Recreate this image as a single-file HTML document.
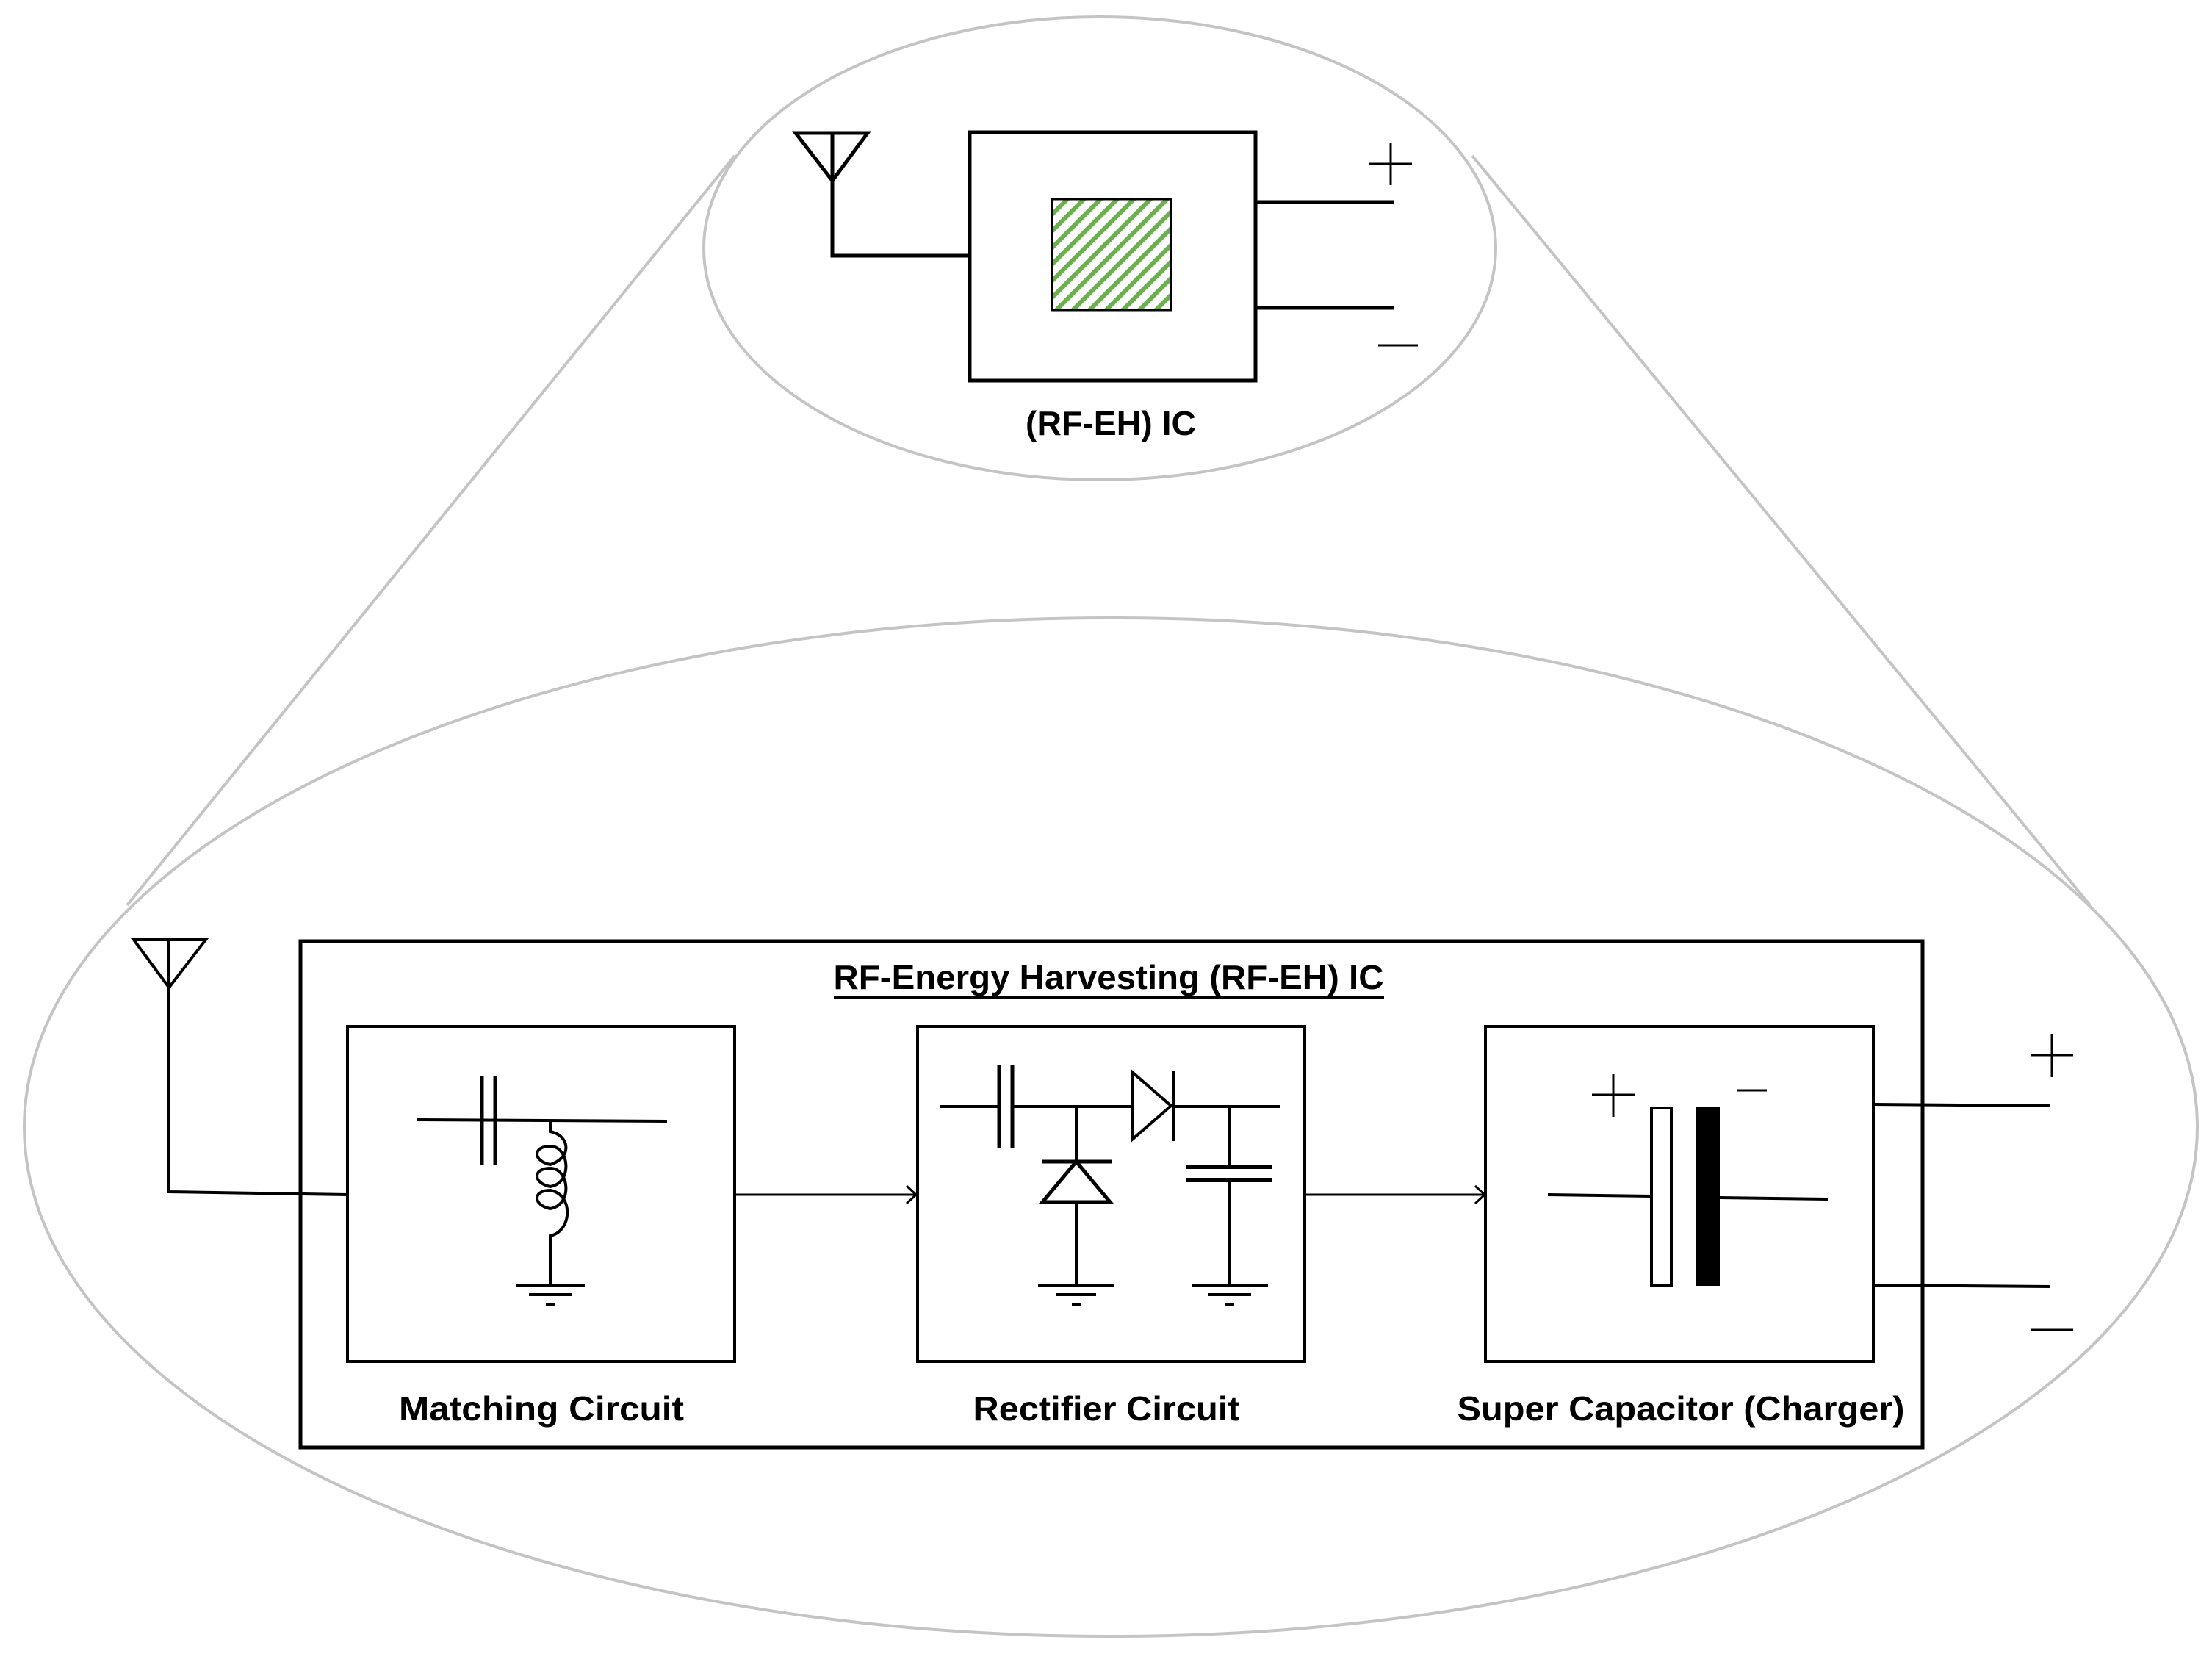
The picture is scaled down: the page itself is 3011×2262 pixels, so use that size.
<!DOCTYPE html>
<html><head><meta charset="utf-8"><style>html,body{margin:0;padding:0;background:#fff}svg{display:block}</style></head><body>
<svg width="3011" height="2262" viewBox="0 0 3011 2262" xmlns="http://www.w3.org/2000/svg">
<defs>
<pattern id="h" patternUnits="userSpaceOnUse" width="16" height="16" patternTransform="rotate(45)">
<rect width="16" height="16" fill="#fff"/><rect x="0" y="0" width="6" height="16" fill="#6ab04c"/>
</pattern>
</defs>
<g fill="none" stroke="#c4c4c4" stroke-width="4">
<ellipse cx="1497" cy="338" rx="539" ry="315"/>
<ellipse cx="1512" cy="1534" rx="1479" ry="693"/>
<line x1="1000" y1="212" x2="173" y2="1232"/>
<line x1="2004" y1="212" x2="2845" y2="1232"/>
</g>
<g fill="none" stroke="#000" stroke-width="5">
<!-- top IC -->
<rect x="1320" y="180" width="389" height="338"/>
<rect x="1432" y="271" width="162" height="151" fill="url(#h)" stroke-width="3"/>
<polygon points="1083,181 1181,181 1133,246" stroke-width="5"/>
<polyline points="1133,181 1133,348 1320,348"/>
<line x1="1709" y1="275" x2="1897" y2="275"/>
<line x1="1709" y1="419" x2="1897" y2="419"/>
<line x1="1864" y1="223" x2="1922" y2="223" stroke-width="3"/>
<line x1="1893" y1="194" x2="1893" y2="252" stroke-width="3"/>
<line x1="1876" y1="470" x2="1930" y2="470" stroke-width="3"/>
<!-- bottom -->
<rect x="409" y="1281" width="2208" height="689"/>
<rect x="473" y="1397" width="527" height="456" stroke-width="4"/>
<rect x="1249" y="1397" width="527" height="456" stroke-width="4"/>
<rect x="2022" y="1397" width="528" height="456" stroke-width="4"/>
<polygon points="182,1279 280,1279 230,1344" stroke-width="4"/>
<polyline points="230,1279 230,1622 473,1626" stroke-width="4"/>
<line x1="1000" y1="1626" x2="1246" y2="1626" stroke-width="3"/>
<polyline points="1234,1614 1247,1626 1234,1638" stroke-width="3"/>
<line x1="1776" y1="1626" x2="2020" y2="1626" stroke-width="3"/>
<polyline points="2008,1614 2021,1626 2008,1638" stroke-width="3"/>
<line x1="2550" y1="1503" x2="2790" y2="1505" stroke-width="4"/>
<line x1="2550" y1="1749" x2="2790" y2="1751" stroke-width="4"/>
<line x1="2764" y1="1436" x2="2822" y2="1436" stroke-width="3"/>
<line x1="2793" y1="1407" x2="2793" y2="1466" stroke-width="3"/>
<line x1="2764" y1="1810" x2="2822" y2="1810" stroke-width="3"/>
<!-- matching -->
<line x1="568" y1="1524" x2="908" y2="1526" stroke-width="4"/>
<line x1="656" y1="1465" x2="656" y2="1586" stroke-width="5"/>
<line x1="674" y1="1465" x2="674" y2="1586" stroke-width="5"/>
<path d="M749 1525 V1540 C775 1545,780 1575,749 1585 C725 1580,725 1560,749 1560 C775 1560,780 1610,749 1615 C725 1610,725 1590,749 1590 C775 1590,780 1640,749 1645 C725 1640,725 1620,749 1620 C780 1625,780 1675,749 1682 V1748" stroke-width="4"/>
<line x1="702" y1="1750" x2="796" y2="1750" stroke-width="4"/>
<line x1="720" y1="1762" x2="778" y2="1762" stroke-width="4"/>
<line x1="743" y1="1775" x2="755" y2="1775" stroke-width="4"/>
<!-- rectifier -->
<line x1="1279" y1="1506" x2="1360" y2="1506" stroke-width="4"/>
<line x1="1360" y1="1450" x2="1360" y2="1562" stroke-width="5"/>
<line x1="1378" y1="1450" x2="1378" y2="1562" stroke-width="5"/>
<line x1="1378" y1="1506" x2="1540" y2="1506" stroke-width="4"/>
<line x1="1465" y1="1506" x2="1465" y2="1748" stroke-width="4"/>
<line x1="1419" y1="1581" x2="1513" y2="1581" stroke-width="5"/>
<polygon points="1465,1581 1419,1636 1511,1636" fill="#fff" stroke-width="5"/>
<line x1="1413" y1="1750" x2="1517" y2="1750" stroke-width="4"/>
<line x1="1438" y1="1762" x2="1492" y2="1762" stroke-width="4"/>
<line x1="1459" y1="1775" x2="1471" y2="1775" stroke-width="4"/>
<polygon points="1541,1459 1541,1551 1594,1505" fill="#fff" stroke-width="4"/>
<line x1="1598" y1="1457" x2="1598" y2="1553" stroke-width="4"/>
<line x1="1598" y1="1506" x2="1742" y2="1506" stroke-width="4"/>
<line x1="1673" y1="1506" x2="1673" y2="1586" stroke-width="4"/>
<line x1="1615" y1="1588" x2="1731" y2="1588" stroke-width="6"/>
<line x1="1615" y1="1606" x2="1731" y2="1606" stroke-width="6"/>
<line x1="1673" y1="1606" x2="1674" y2="1748" stroke-width="4"/>
<line x1="1622" y1="1750" x2="1726" y2="1750" stroke-width="4"/>
<line x1="1645" y1="1762" x2="1703" y2="1762" stroke-width="4"/>
<line x1="1668" y1="1775" x2="1680" y2="1775" stroke-width="4"/>
<!-- super cap -->
<line x1="2107" y1="1626" x2="2248" y2="1628" stroke-width="4"/>
<rect x="2248" y="1508" width="27" height="241" fill="#fff" stroke-width="4"/>
<rect x="2310" y="1508" width="30" height="241" fill="#000" stroke-width="2"/>
<line x1="2340" y1="1630" x2="2488" y2="1632" stroke-width="4"/>
<line x1="2167" y1="1490" x2="2225" y2="1490" stroke-width="3"/>
<line x1="2196" y1="1462" x2="2196" y2="1520" stroke-width="3"/>
<line x1="2365" y1="1484" x2="2405" y2="1484" stroke-width="3"/>
</g>
<g font-family="'Liberation Sans Narrow','Liberation Sans',sans-serif" font-weight="bold" font-size="46" fill="#000" text-anchor="middle">
<text x="1512" y="592" textLength="232" lengthAdjust="spacingAndGlyphs">(RF-EH) IC</text>
<text x="1509" y="1346" textLength="749" lengthAdjust="spacingAndGlyphs">RF-Energy Harvesting (RF-EH) IC</text>
<text x="737" y="1933" textLength="388" lengthAdjust="spacingAndGlyphs">Matching Circuit</text>
<text x="1506" y="1933" textLength="363" lengthAdjust="spacingAndGlyphs">Rectifier Circuit</text>
<text x="2288" y="1933" textLength="609" lengthAdjust="spacingAndGlyphs">Super Capacitor (Charger)</text>
</g>
<line x1="1135" y1="1357" x2="1884" y2="1357" stroke="#000" stroke-width="4"/>
</svg>
</body></html>
